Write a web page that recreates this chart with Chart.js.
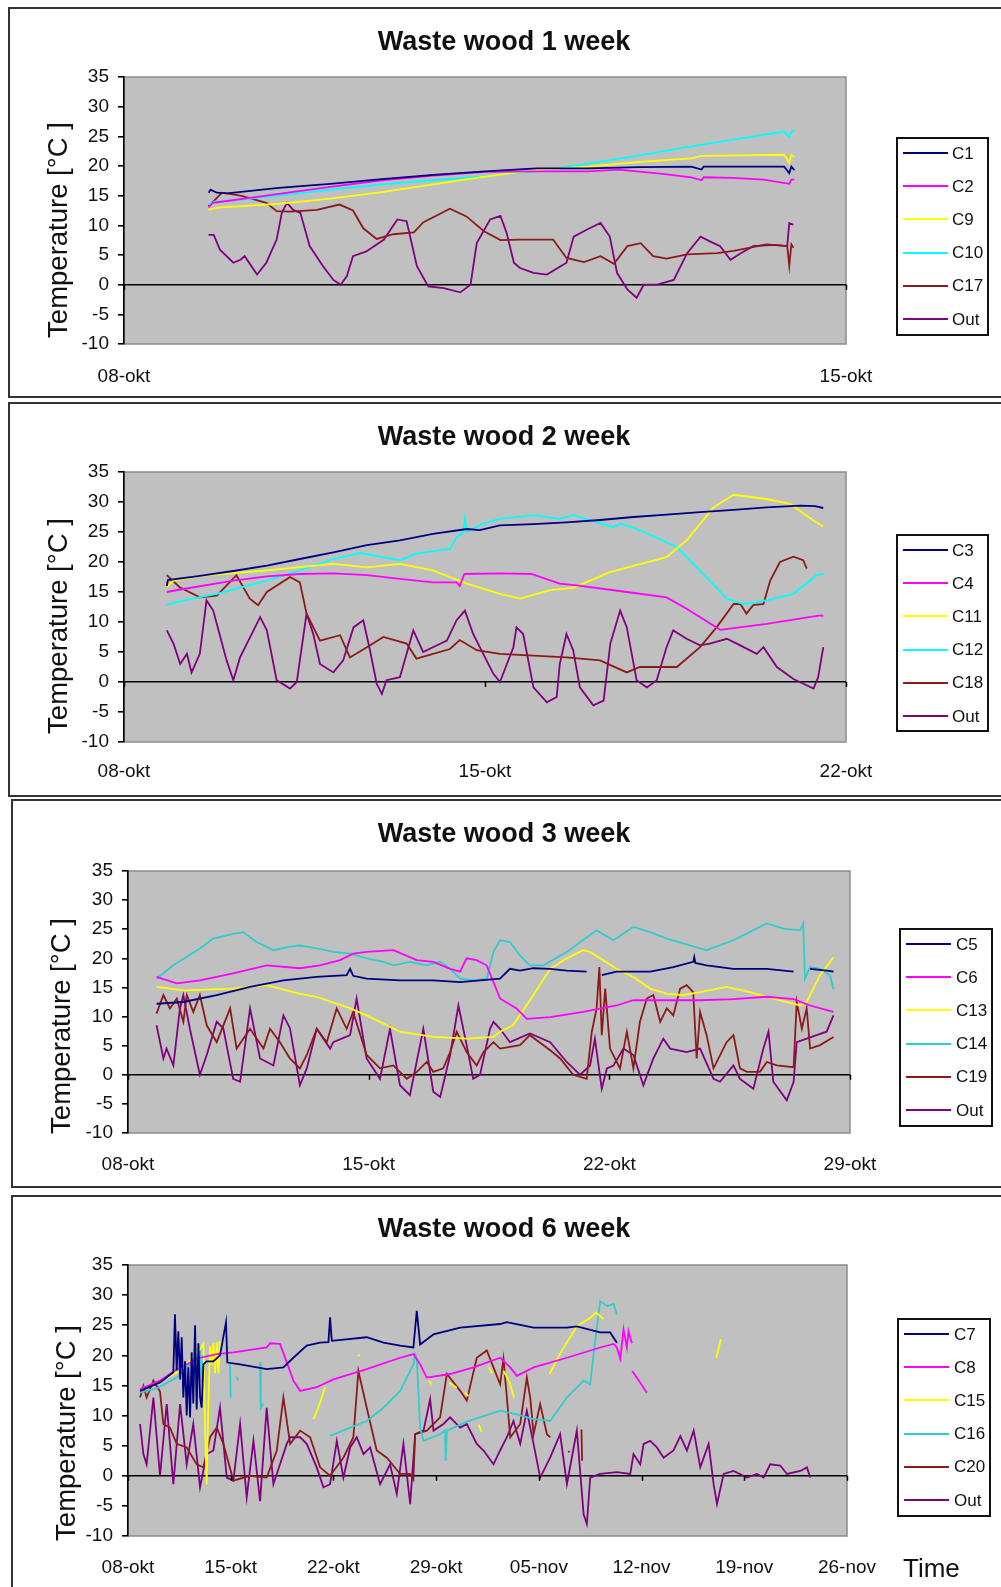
<!DOCTYPE html>
<html><head><meta charset="utf-8">
<script src="https://cdn.jsdelivr.net/npm/chart.js@4.4.1/dist/chart.umd.min.js"></script>
<style>
html,body{margin:0;padding:0;background:#fff;}
body{width:1001px;height:1587px;overflow:hidden;position:relative;font-family:"Liberation Sans",Arial,sans-serif;color:#111;}
canvas{position:absolute;left:0;}
.panel{position:absolute;border:2px solid #333;box-sizing:border-box;}
.title{position:absolute;font-weight:bold;font-size:27px;line-height:27px;white-space:nowrap;transform:translateX(-50%);}
.ytitle{position:absolute;font-size:27.5px;line-height:27px;white-space:nowrap;transform:translate(-50%,-50%) rotate(-90deg);}
.legend{position:absolute;border:2px solid #111;background:#fff;box-sizing:border-box;}
.lrow{position:absolute;height:2px;}
.ltext{position:absolute;font-size:17px;line-height:17px;white-space:nowrap;}
.time{position:absolute;font-size:26px;line-height:26px;}
</style>
</head><body>
<script>
// ---------------- DATA (day offset from 08-okt, °C) ----------------
const p1_ticks = ['08-okt','15-okt'];
const p1_labels = ['C1','C2','C9','C10','C17','Out'];
const p1_C1 = [[0.82,15.5],[0.84,16.0],[0.9,15.5],[1.0,15.4],[1.5,16.3],[2.0,17.0],[2.5,17.8],[3.0,18.5],[3.5,19.1],[4.0,19.6],[4.5,19.6],[5.0,19.8],[5.5,19.9],[5.6,19.4],[5.62,19.9],[6.0,19.9],[6.4,19.9],[6.45,18.8],[6.47,19.9],[6.5,19.3]];
const p1_C2 = [[0.82,13.0],[0.86,13.8],[1.0,14.1],[1.2,14.6],[1.5,15.3],[2.0,16.5],[2.5,17.6],[3.0,18.4],[3.5,19.0],[4.0,19.1],[4.5,19.1],[4.8,19.4],[5.2,18.7],[5.5,18.1],[5.6,17.6],[5.62,18.1],[5.9,18.0],[6.2,17.7],[6.45,17.0],[6.47,17.7],[6.5,17.7]];
const p1_C9 = [[0.82,12.6],[0.9,13.0],[1.5,13.6],[2.0,14.5],[2.5,15.6],[3.0,16.9],[3.5,18.2],[4.0,19.3],[4.5,19.9],[5.0,20.7],[5.5,21.3],[5.6,21.7],[6.0,21.8],[6.4,21.9],[6.45,20.5],[6.47,21.9],[6.5,21.5]];
const p1_C10 = [[0.82,13.5],[0.88,14.0],[1.0,14.1],[1.5,15.0],[2.0,16.0],[2.5,16.9],[3.0,17.6],[3.5,18.3],[4.0,19.1],[4.5,20.4],[5.0,21.8],[5.5,23.3],[6.0,24.7],[6.4,25.8],[6.45,24.8],[6.47,25.8],[6.5,26.0]];
const p1_C17 = [[0.82,13.2],[0.95,15.5],[1.13,15.0],[1.38,13.8],[1.48,12.4],[1.61,12.3],[1.87,12.6],[2.09,13.5],[2.22,12.5],[2.32,9.5],[2.45,7.7],[2.61,8.5],[2.81,8.8],[2.90,10.5],[3.16,12.8],[3.32,11.5],[3.49,9.0],[3.65,7.5],[3.84,7.6],[4.16,7.6],[4.29,4.5],[4.46,3.8],[4.62,4.8],[4.75,3.5],[4.88,6.5],[5.01,7.0],[5.13,4.8],[5.26,4.4],[5.46,5.1],[5.75,5.3],[5.91,5.7],[6.23,6.8],[6.43,6.5],[6.45,3.2],[6.47,6.8],[6.49,6.2]];
const p1_Out = [[0.82,8.4],[0.87,8.4],[0.93,5.9],[1.06,3.7],[1.13,4.2],[1.17,4.8],[1.29,1.7],[1.38,3.7],[1.48,7.6],[1.53,12.1],[1.58,13.8],[1.64,12.6],[1.71,12.1],[1.80,6.5],[1.93,3.1],[2.03,0.8],[2.10,0],[2.16,1.4],[2.22,4.8],[2.35,5.6],[2.52,7.6],[2.65,11.0],[2.74,10.7],[2.84,3.1],[2.95,-0.3],[3.10,-0.6],[3.26,-1.3],[3.36,0],[3.42,7.0],[3.55,11.0],[3.65,11.6],[3.71,8.7],[3.78,3.7],[3.84,2.8],[3.97,2.0],[4.10,1.7],[4.29,3.7],[4.36,8.1],[4.49,9.3],[4.62,10.4],[4.71,8.1],[4.78,2.0],[4.88,-0.8],[4.97,-2.2],[5.04,0],[5.17,0],[5.33,0.8],[5.46,5.3],[5.59,8.1],[5.68,7.3],[5.78,6.5],[5.88,4.2],[5.98,5.3],[6.10,6.5],[6.30,6.7],[6.43,6.5],[6.45,10.4],[6.49,10.1]];

const p2_ticks = ['08-okt','15-okt','22-okt'];
const p2_labels = ['C3','C4','C11','C12','C18','Out'];
const p2_C3 = [[0.83,16.0],[0.85,17.0],[1.47,17.7],[2.12,18.5],[2.77,19.4],[3.41,20.5],[4.06,21.6],[4.71,22.8],[5.35,23.6],[5.99,24.7],[6.65,25.5],[6.9,25.3],[7.29,26.1],[7.94,26.3],[8.58,26.6],[9.23,27.0],[9.88,27.5],[10.52,27.9],[11.17,28.3],[11.82,28.7],[12.46,29.1],[13.11,29.4],[13.4,29.3],[13.56,29.0]];
const p2_C4 = [[0.83,15.0],[1.15,15.5],[2.12,16.9],[2.77,17.6],[3.41,18.0],[4.06,18.1],[4.71,17.8],[5.35,17.2],[5.99,16.6],[6.45,16.6],[6.51,16.0],[6.6,18.0],[7.29,18.1],[7.9,18.0],[8.45,16.4],[8.78,16.1],[9.75,15.0],[10.52,14.1],[10.91,12.2],[11.56,8.7],[12.46,9.7],[13.5,11.1],[13.56,11.0]];
const p2_C11 = [[0.83,15.8],[0.96,16.9],[1.47,17.7],[2.77,18.6],[4.06,19.7],[4.71,19.1],[5.35,19.7],[5.99,18.6],[6.32,17.5],[6.65,16.4],[7.29,14.7],[7.68,13.9],[8.26,15.3],[8.71,15.7],[9.42,18.3],[10.52,20.8],[10.91,23.6],[11.43,29.1],[11.82,31.2],[12.46,30.5],[12.91,29.7],[13.37,26.9],[13.56,25.9]];
const p2_C12 = [[0.83,12.8],[1.15,13.6],[1.8,14.7],[2.77,16.9],[3.41,18.6],[4.06,20.5],[4.58,21.5],[5.03,20.8],[5.35,20.3],[5.67,21.4],[6.32,22.2],[6.45,24.1],[6.58,25.0],[6.61,27.2],[6.65,25.0],[6.97,26.4],[7.29,27.2],[7.94,27.8],[8.45,27.2],[8.71,27.8],[9.49,25.8],[9.62,26.4],[10.0,25.3],[10.72,22.5],[11.04,19.7],[11.69,13.9],[12.01,13.0],[12.46,13.6],[12.98,14.7],[13.43,17.8],[13.56,18.0]];
const p2_C18 = [[0.83,17.8],[1.08,15.8],[1.47,14.1],[1.8,14.4],[2.18,17.8],[2.44,13.9],[2.6,12.8],[2.77,15.0],[3.22,17.5],[3.41,16.6],[3.54,11.4],[3.8,6.9],[4.19,7.8],[4.38,4.1],[4.71,5.8],[5.03,7.5],[5.48,6.4],[5.67,3.9],[6.32,5.5],[6.51,7.0],[6.84,5.3],[7.29,4.7],[7.94,4.4],[8.58,4.1],[9.23,3.6],[9.75,1.6],[10.0,2.5],[10.72,2.5],[11.17,5.8],[11.49,9.1],[11.82,13.0],[11.95,13.0],[12.07,11.4],[12.2,12.8],[12.4,13.0],[12.53,16.9],[12.72,20.0],[12.98,20.9],[13.17,20.3],[13.24,18.9]];
const p2_Out = [[0.83,8.6],[0.96,6.4],[1.09,3.0],[1.22,4.7],[1.31,1.6],[1.47,4.7],[1.60,13.6],[1.73,11.9],[1.99,3.6],[2.12,0.3],[2.25,4.1],[2.64,10.8],[2.77,8.6],[2.96,0.3],[3.22,-1.1],[3.35,0],[3.54,11.4],[3.67,8.0],[3.80,3.0],[4.06,1.6],[4.25,3.6],[4.45,9.1],[4.64,10.3],[4.77,5.3],[4.90,-0.3],[5.0,-2.0],[5.09,0.3],[5.35,0.8],[5.61,8.6],[5.80,5.0],[5.99,5.8],[6.26,6.9],[6.45,10.3],[6.61,11.9],[6.77,8.0],[7.03,3.6],[7.16,1.4],[7.29,0],[7.55,5.8],[7.61,9.1],[7.74,8.0],[7.94,-0.9],[8.20,-3.4],[8.39,-2.5],[8.45,3.0],[8.58,8.0],[8.71,5.3],[8.84,-0.9],[9.10,-3.9],[9.30,-3.1],[9.43,6.4],[9.62,11.9],[9.75,9.1],[9.94,0.3],[10.14,-0.9],[10.33,0.3],[10.52,5.8],[10.65,8.6],[10.91,7.2],[11.17,6.1],[11.36,6.4],[11.69,7.2],[11.95,6.1],[12.27,4.7],[12.40,5.8],[12.66,2.5],[12.98,0.5],[13.37,-1.1],[13.46,0.8],[13.56,5.8]];

const p3_ticks = ['08-okt','15-okt','22-okt','29-okt'];
const p3_labels = ['C5','C6','C13','C14','C19','Out'];
const p3_C5 = [[0.83,12.2],[1.61,12.5],[2.58,13.7],[3.55,15.1],[4.52,16.2],[5.49,16.8],[6.36,17.1],[6.46,18.2],[6.55,17.0],[6.94,16.5],[7.91,16.2],[8.88,16.2],[9.66,15.9],[10.82,16.5],[11.11,18.2],[11.40,17.9],[11.79,18.3],[12.28,18.2],[12.76,17.9],[13.34,17.7],null,[13.78,17.1],[14.21,17.7],[15.19,17.7],[15.86,18.5],[16.44,19.4],[16.47,20.2],[16.5,19.2],[16.83,18.8],[17.61,18.2],[18.58,18.2],[19.36,17.7],null,[19.84,18.2],[20.32,17.9],[20.52,17.7]];
const p3_C6 = [[0.83,16.8],[1.42,15.7],[2.09,16.2],[3.06,17.4],[4.03,18.8],[5.0,18.3],[5.58,18.8],[6.17,19.7],[6.55,20.8],[6.94,21.1],[7.72,21.4],[8.40,19.7],[8.88,19.4],[9.37,18.2],[9.66,17.7],[9.85,20.0],[10.14,19.7],[10.43,18.8],[10.63,15.9],[10.82,13.1],[11.30,11.4],[11.60,9.6],[12.28,9.9],[13.24,10.8],[14.21,11.9],[14.70,12.8],[15.67,12.8],[16.64,12.8],[17.61,13.0],[18.58,13.4],[19.36,13.0],[19.84,11.9],[20.52,10.8]];
const p3_C13 = [[0.83,15.1],[1.61,14.5],[3.06,14.8],[4.03,15.4],[5.0,13.9],[5.49,13.4],[6.46,11.4],[6.94,10.2],[7.91,7.4],[8.88,6.5],[9.85,6.2],[10.63,6.5],[10.82,7.4],[11.2,8.5],[11.79,13.7],[12.28,18.2],[12.76,20.0],[13.24,21.4],[13.44,21.1],[14.21,18.2],[14.70,16.8],[15.19,14.8],[15.67,13.9],[16.15,13.7],[16.64,14.2],[17.41,15.1],[18.09,14.2],[18.58,13.4],[19.55,11.9],[19.74,12.5],[20.13,17.1],[20.52,20.2]];
const p3_C14 = [[0.83,16.5],[1.32,18.8],[2.09,21.7],[2.48,23.4],[3.06,24.2],[3.35,24.5],[3.74,22.8],[4.23,21.4],[4.71,22.0],[5.0,22.2],[5.49,21.7],[5.97,21.1],[6.46,20.8],[6.94,20.0],[7.43,19.4],[7.72,18.8],[8.20,19.4],[8.69,18.8],[9.08,19.4],[9.37,18.2],[9.66,16.5],[10.04,16.2],[10.43,16.5],[10.63,21.1],[10.82,23.1],[11.11,22.8],[11.40,20.5],[11.69,18.8],[12.08,18.8],[12.76,21.1],[13.44,24.0],[13.63,24.8],[14.12,23.1],[14.70,25.4],[15.19,24.5],[15.67,23.4],[16.64,21.7],[16.83,21.4],[17.61,23.1],[18.38,25.4],[18.58,26.0],[19.06,25.1],[19.55,24.8],[19.64,26.0],[19.69,16.5],[19.84,18.5],[20.13,18.2],[20.42,17.1],[20.52,14.7]];
const p3_C19 = [[0.83,10.5],[1.03,13.7],[1.22,11.4],[1.42,13.1],[1.61,9.1],[1.71,13.7],[1.90,10.8],[2.09,13.7],[2.29,8.5],[2.58,5.6],[2.97,11.4],[3.16,4.5],[3.55,7.9],[3.94,4.5],[4.13,7.9],[4.42,5.6],[4.71,2.8],[5.0,1.1],[5.20,3.4],[5.49,7.9],[5.78,5.6],[6.07,11.4],[6.36,7.9],[6.55,10.8],[6.94,3.4],[7.33,1.1],[7.72,1.6],[8.11,-0.7],[8.40,0.5],[8.69,2.2],[8.88,0.5],[9.17,1.1],[9.37,3.9],[9.56,7.4],[9.85,3.9],[10.14,1.6],[10.34,3.9],[10.63,5.6],[10.82,4.5],[11.40,5.1],[11.69,6.8],[12.28,4.2],[12.57,2.8],[12.95,0],[13.34,-0.7],[13.49,7.4],[13.63,11.4],[13.71,18.5],[13.78,6.8],[13.88,14.8],[14.02,4.5],[14.31,1.1],[14.51,7.4],[14.70,1.1],[14.89,9.1],[15.09,13.1],[15.28,13.7],[15.48,9.1],[15.67,11.4],[15.86,10.2],[16.06,14.8],[16.25,15.4],[16.44,14.2],[16.54,2.8],[16.64,10.8],[16.83,6.8],[17.03,1.1],[17.41,5.6],[17.61,6.8],[17.80,1.1],[18.0,0.5],[18.38,0.5],[18.58,2.2],[18.87,1.6],[19.36,1.3],[19.45,12.5],[19.60,7.9],[19.74,11.4],[19.84,4.5],[20.13,5.1],[20.52,6.5]];
const p3_Out = [[0.83,8.5],[1.03,2.8],[1.12,4.5],[1.32,1.6],[1.51,11.4],[1.61,13.7],[1.80,7.9],[2.09,0],[2.29,3.4],[2.58,9.1],[2.77,8.0],[3.06,-0.7],[3.26,-1.2],[3.55,11.4],[3.84,2.8],[4.23,1.6],[4.52,10.2],[4.71,8.0],[5.0,-1.8],[5.20,1.1],[5.49,7.9],[5.88,4.5],[5.97,5.6],[6.46,6.8],[6.65,13.1],[6.94,2.8],[7.33,-0.7],[7.62,7.9],[7.91,-1.8],[8.20,-3.5],[8.59,7.9],[8.88,-2.9],[9.08,-3.8],[9.37,3.4],[9.61,11.9],[9.85,5.1],[10.04,-0.7],[10.24,0],[10.53,7.9],[10.63,9.1],[10.82,7.9],[11.11,5.6],[11.69,7.1],[12.28,5.6],[12.76,2.2],[13.15,0],[13.44,1.6],[13.58,6.2],[13.78,-2.4],[13.93,1.1],[14.12,1.6],[14.41,4.5],[14.70,3.4],[14.99,-1.8],[15.28,2.8],[15.57,6.2],[15.77,4.5],[16.25,3.9],[16.64,4.5],[17.03,-0.7],[17.22,-1.2],[17.61,1.6],[17.80,-0.7],[18.19,-2.4],[18.48,4.5],[18.63,7.4],[18.77,-1.2],[19.16,-4.4],[19.36,-1.2],[19.45,5.6],[19.74,6.2],[20.03,6.8],[20.32,7.4],[20.52,10.2]];

const p4_ticks = ['08-okt','15-okt','22-okt','29-okt','05-nov','12-nov','19-nov','26-nov'];
const p4_labels = ['C7','C8','C15','C16','C20','Out'];
const p4_C7 = [[0.82,14.1],[2.18,15.5],[3.09,17.2],[3.2,26.8],[3.32,17.5],[3.43,24.0],[3.55,16.0],[3.66,23.0],[3.77,13.0],[3.89,19.0],[4.0,10.0],[4.11,18.0],[4.23,9.7],[4.34,20.5],[4.45,12.0],[4.57,25.0],[4.68,11.0],[4.8,22.0],[4.91,13.0],[5.02,11.3],[5.14,18.5],[5.36,19.0],[5.82,19.0],[6.27,20.0],[6.68,25.5],[6.77,18.8],[7.64,18.5],[9.45,17.7],[10.59,18.0],[11.27,19.6],[12.18,21.6],[13.09,22.1],[13.66,22.2],[13.77,26.3],[13.89,22.4],[16.27,23.0],[17.41,22.1],[18.55,21.6],[19.45,21.3],[19.68,27.4],[19.91,21.8],[20.82,23.5],[22.64,24.6],[25.36,25.2],[25.82,25.5],[27.64,24.6],[29.91,24.6],[30.59,24.8],[32.18,23.8],[32.86,23.8],[33.32,22.1]];
const p4_C8 = [[0.82,14.4],[2.18,15.8],[3.32,17.7],[4.91,19.6],[6.05,20.2],[7.18,20.5],[9.45,21.3],[9.68,22.0],[10.36,21.9],[11.27,15.8],[11.73,14.1],[12.86,14.7],[14.0,16.0],[16.27,17.7],[18.55,19.6],[19.45,20.2],[19.91,18.5],[20.36,16.3],[21.95,16.9],[23.55,18.0],[25.36,19.6],[26.05,18.0],[26.5,16.6],[27.64,18.0],[29.91,19.6],[32.18,21.3],[33.09,21.9],[33.32,21.3],[33.55,19.4],[33.77,24.3],[34.0,21.3],[34.11,24.0],[34.34,22.0],null,[34.36,17.4],[34.9,15.5],[35.36,13.8]];
const p4_C15 = [[0.82,14.4],[2.18,15.8],[3.55,17.4],[4.91,21.0],[5.14,21.9],[5.25,8.0],[5.36,-1.4],[5.48,12.0],[5.59,21.5],[5.7,18.5],[5.82,22.0],[5.93,17.0],[6.05,22.2],[6.16,17.0],[6.27,22.4],null,[12.64,9.4],[13.0,11.5],[13.43,14.7],null,[15.7,20.2],[15.75,19.8],null,[20.5,15.8],[20.7,15.2],null,[21.9,15.4],[22.4,14.6],null,[23.0,13.8],[23.2,13.2],null,[23.9,8.5],[24.1,7.3],null,[24.6,18.0],[24.8,17.0],null,[25.6,17.4],[26.0,15.5],[26.3,13.0],null,[28.73,16.9],[29.5,20.5],[30.61,24.9],[31.5,26.2],[31.9,27.1],[32.4,26.0],null,[40.1,19.6],[40.4,22.7]];
const p4_C16 = [[0.82,13.8],[1.95,14.5],[3.32,16.3],[4.23,18.5],[4.91,21.0],[5.02,15.5],[5.14,20.0],null,[6.95,18.5],[7.0,13.0],null,[7.4,16.5],[7.5,15.8],null,[9.0,18.8],[9.05,11.3],[9.2,12.0],null,[13.77,6.6],[15.14,8.0],[16.27,9.1],[17.41,11.3],[18.55,14.1],[19.45,18.5],[19.57,20.2],[19.68,19.5],[19.91,8.0],[20.14,5.8],[21.27,6.9],[21.61,7.5],[21.65,2.5],[21.73,7.5],[23.09,9.0],[25.36,10.8],[26.5,10.2],[27.64,9.4],[28.77,9.1],[29.91,13.0],[31.05,15.8],[31.5,15.2],[31.73,20.2],[32.18,29.0],[32.64,28.2],[33.09,28.5],[33.32,26.8]];
const p4_C20 = [[0.82,13.0],[1.05,14.9],[1.27,13.0],[1.73,15.8],[2.18,14.0],[2.41,8.6],[2.86,8.0],[3.32,5.3],[4.0,4.7],[4.68,1.9],[5.14,1.4],[5.59,6.4],[6.05,8.0],[6.5,5.3],[7.18,-0.8],[8.32,0],[9.45,-0.3],[10.14,4.2],[10.59,13.0],[11.05,5.3],[11.73,7.5],[12.41,6.4],[13.09,1.4],[13.77,0],[14.68,3.0],[15.36,6.4],[15.7,17.4],[16.27,11.3],[16.95,4.2],[17.64,3.0],[18.55,0.3],[19.23,0.3],[19.45,-0.6],[19.57,6.9],[20.36,7.5],[21.27,9.7],[21.73,16.9],[22.64,14.1],[23.09,12.5],[23.77,19.6],[24.45,20.8],[24.91,18.0],[25.36,15.2],[25.59,19.4],[25.82,13.0],[26.05,6.4],[26.73,8.6],[27.18,16.3],[27.41,13.0],[27.64,6.9],[28.09,11.9],[28.55,6.9],[28.77,6.4],null,[30.0,3.9],[30.1,4.1],null,[30.9,7.7],[30.95,2.5]];
const p4_Out = [[0.82,8.6],[1.05,3.6],[1.27,1.9],[1.73,13.0],[2.18,0],[2.64,11.9],[3.09,-1.4],[3.55,11.9],[4.0,1.9],[4.45,8.6],[4.91,-1.9],[5.36,3.6],[5.82,4.2],[6.27,11.3],[6.73,-0.3],[7.18,-0.8],[7.64,8.6],[8.09,-3.6],[8.55,5.8],[9.0,-4.2],[9.45,11.3],[9.91,-1.4],[10.36,1.9],[10.82,5.3],[11.05,6.4],[11.73,6.4],[12.18,5.3],[12.86,1.4],[13.32,-1.9],[13.77,-1.4],[14.23,5.8],[14.68,-0.3],[15.14,4.7],[15.59,6.4],[16.05,3.6],[16.5,4.7],[17.18,-1.4],[17.86,1.9],[18.32,-3.0],[18.77,5.3],[19.23,-4.7],[19.57,6.9],[20.14,7.5],[20.59,12.7],[20.82,7.5],[21.5,8.6],[21.95,9.7],[22.64,8.0],[23.09,8.6],[23.77,5.3],[24.23,4.2],[24.91,1.9],[25.36,4.2],[25.82,6.4],[26.27,9.1],[26.73,5.3],[27.18,10.8],[27.64,5.3],[28.09,-0.3],[28.77,3.0],[29.45,6.9],[29.91,-1.4],[30.59,7.5],[31.05,-6.4],[31.27,-8.0],[31.5,-0.3],[32.18,0.3],[33.32,0.6],[34.23,0.3],[34.45,3.6],[34.91,1.9],[35.14,5.3],[35.59,5.8],[36.05,4.7],[36.5,3.0],[37.18,4.2],[37.64,6.6],[38.09,4.2],[38.55,7.5],[39.0,1.4],[39.57,5.3],[39.91,-1.4],[40.14,-4.7],[40.59,0.3],[41.27,0.8],[42.18,-0.3],[42.86,0.3],[43.32,-0.3],[43.77,1.9],[44.45,1.7],[44.91,0.3],[45.82,0.8],[46.27,1.4],[46.5,-0.3]];

// ---------------- STYLES / LAYOUT ----------------
const NAVY='#000080', MAG='#FF00FF', YEL='#FFFF00', CYAN='#00FFFF', TURQ='#33CCCC', DRED='#8B1A1A', PURP='#800080';
const FONT='"Liberation Sans", Arial, sans-serif';
Chart.defaults.font.family = FONT;

const panels = [
  {top:0, h:400, plot:[124,846,77,344], xmax:7, ticks:p1_ticks, xpad:21, title:'Waste wood 1 week', titleY:28,
   box:[8,7,1000,391], yt:[56.5,230], leg:[896,137,93,199,153,903,952],
   series:[[p1_labels[0],NAVY,p1_C1],[p1_labels[1],MAG,p1_C2],[p1_labels[2],YEL,p1_C9],[p1_labels[3],CYAN,p1_C10],[p1_labels[4],DRED,p1_C17],[p1_labels[5],PURP,p1_Out]]},
  {top:400, h:397, plot:[124,846,72,342], xmax:14, ticks:p2_ticks, xpad:18, title:'Waste wood 2 week', titleY:423,
   box:[8,402,1000,395], yt:[56.5,626], leg:[896,534,93,198,550,903,952],
   series:[[p2_labels[0],NAVY,p2_C3],[p2_labels[1],MAG,p2_C4],[p2_labels[2],YEL,p2_C11],[p2_labels[3],CYAN,p2_C12],[p2_labels[4],DRED,p2_C18],[p2_labels[5],PURP,p2_Out]]},
  {top:797, h:395, plot:[128,850,74,336], xmax:21, ticks:p3_ticks, xpad:20, title:'Waste wood 3 week', titleY:820,
   box:[11,799,1000,389], yt:[60,1026], leg:[899,928,94,199,944,906,956],
   series:[[p3_labels[0],NAVY,p3_C5],[p3_labels[1],MAG,p3_C6],[p3_labels[2],YEL,p3_C13],[p3_labels[3],TURQ,p3_C14],[p3_labels[4],DRED,p3_C19],[p3_labels[5],PURP,p3_Out]]},
  {top:1190, h:397, plot:[128,847,75,346], xmax:49, ticks:p4_ticks, xpad:20, title:'Waste wood 6 week', titleY:1215,
   box:[11,1195,1000,400], yt:[65,1433], leg:[897,1318,94,199,1334,904,954],
   series:[[p4_labels[0],NAVY,p4_C7],[p4_labels[1],MAG,p4_C8],[p4_labels[2],YEL,p4_C15],[p4_labels[3],TURQ,p4_C16],[p4_labels[4],DRED,p4_C20],[p4_labels[5],PURP,p4_Out]]}
];

function pts(arr){
  let lastX = 0;
  return arr.map(p => { if (p === null) return {x:lastX, y:null}; lastX = p[0]; return {x:p[0], y:p[1]}; });
}

const bgPlugin = {
  id:'plotbg',
  beforeDraw(chart){
    const {ctx, chartArea:a} = chart;
    ctx.save();
    ctx.fillStyle = '#C0C0C0';
    ctx.fillRect(a.left, a.top, a.right-a.left, a.bottom-a.top);
    ctx.strokeStyle = '#8c8c8c'; ctx.lineWidth = 1.5;
    ctx.strokeRect(a.left, a.top, a.right-a.left, a.bottom-a.top);
    ctx.restore();
  },
  afterDraw(chart){
    const {ctx} = chart, xs = chart.scales.x, ys = chart.scales.y;
    const y0 = ys.getPixelForValue(0);
    ctx.save(); ctx.strokeStyle = '#000'; ctx.lineWidth = 1.5; ctx.beginPath();
    xs.ticks.forEach(t => { const px = Math.round(xs.getPixelForValue(t.value)) + 0.5; ctx.moveTo(px, y0); ctx.lineTo(px, y0 + 5); });
    ctx.stroke(); ctx.restore();
  }
};

const YW = 50, XH = 50, W = 1001;
panels.forEach(P => {
  const cv = document.createElement('canvas');
  cv.width = W; cv.height = P.h; cv.style.top = P.top + 'px';
  document.body.appendChild(cv);
  const [pl, pr, pt, pb] = P.plot;
  const labels = P.ticks;
  new Chart(cv, {
    type:'line',
    data:{datasets: P.series.map(s => ({label:s[0], data:pts(s[2]), borderColor:s[1], backgroundColor:s[1], borderWidth:1.8, pointRadius:0, tension:0, spanGaps:false, fill:false}))},
    options:{
      responsive:false, animation:false, devicePixelRatio:1, events:[],
      layout:{padding:{left:pl-YW, right:W-pr, top:pt, bottom:P.h-pb-XH}},
      plugins:{legend:{display:false}, title:{display:false}, tooltip:{enabled:false}},
      scales:{
        x:{type:'linear', min:0, max:P.xmax,
           afterFit:s => { s.height = XH; },
           afterBuildTicks:s => { s.ticks = labels.map((l,i) => ({value:i*7})); },
           ticks:{autoSkip:false, maxRotation:0, minRotation:0, color:'#111', font:{size:19}, padding:P.xpad,
                  callback:(v,i) => labels[i]},
           grid:{display:false, drawTicks:false}, border:{display:false}},
        y:{min:-10, max:35,
           afterFit:s => { s.width = YW; },
           ticks:{stepSize:5, color:'#111', font:{size:19}, padding:9},
           grid:{color:c => (c.tick && c.tick.value === 0) ? '#000' : 'rgba(0,0,0,0)', lineWidth:1.6, tickColor:'#000', tickLength:6, drawTicks:true},
           border:{display:true, color:'#000', width:1.6}}
      }
    },
    plugins:[bgPlugin]
  });

  // overlays
  const bx = document.createElement('div'); bx.className = 'panel';
  Object.assign(bx.style, {left:P.box[0]+'px', top:P.box[1]+'px', width:P.box[2]+'px', height:P.box[3]+'px'});
  document.body.appendChild(bx);

  const t = document.createElement('div'); t.className = 'title'; t.textContent = P.title;
  Object.assign(t.style, {left:'504px', top:P.titleY+'px'});
  document.body.appendChild(t);

  const yt = document.createElement('div'); yt.className = 'ytitle'; yt.textContent = 'Temperature [°C ]';
  Object.assign(yt.style, {left:P.yt[0]+'px', top:P.yt[1]+'px'});
  document.body.appendChild(yt);

  const [lx, ly, lw, lh, r0, lineX, textX] = P.leg;
  const lg = document.createElement('div'); lg.className = 'legend';
  Object.assign(lg.style, {left:lx+'px', top:ly+'px', width:lw+'px', height:lh+'px'});
  document.body.appendChild(lg);
  P.series.forEach((s, i) => {
    const ry = r0 + i * 33.2;
    const ln = document.createElement('div'); ln.className = 'lrow';
    Object.assign(ln.style, {left:lineX+'px', top:(ry-1)+'px', width:'45px', background:s[1]});
    document.body.appendChild(ln);
    const tx = document.createElement('div'); tx.className = 'ltext'; tx.textContent = s[0];
    Object.assign(tx.style, {left:textX+'px', top:(ry-8.5)+'px'});
    document.body.appendChild(tx);
  });
});

const tm = document.createElement('div'); tm.className = 'time'; tm.textContent = 'Time';
Object.assign(tm.style, {left:'903px', top:'1555px'});
document.body.appendChild(tm);
</script>
</body></html>
